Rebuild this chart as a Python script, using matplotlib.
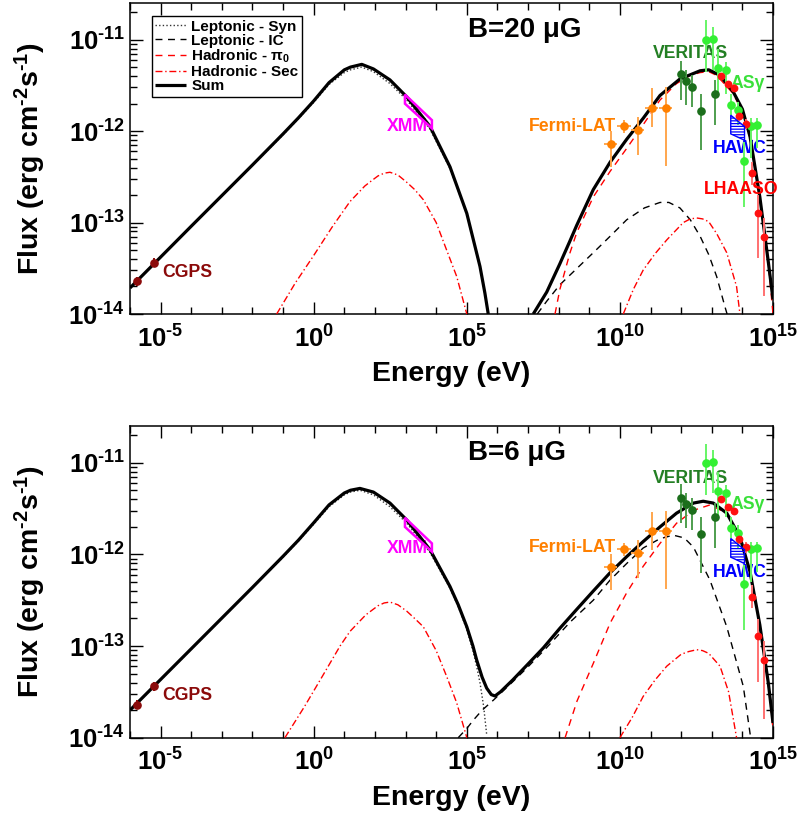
import numpy as np
import matplotlib
matplotlib.use('Agg')
import matplotlib.pyplot as plt
from matplotlib.patches import Polygon
from matplotlib.ticker import FixedLocator, FuncFormatter, NullFormatter

plt.rcParams['font.family'] = ['Liberation Sans', 'DejaVu Sans']
plt.rcParams['font.weight'] = 'bold'
plt.rcParams['mathtext.fontset'] = 'custom'
plt.rcParams['mathtext.rm'] = 'Liberation Sans:bold'
plt.rcParams['mathtext.bf'] = 'Liberation Sans:bold'
plt.rcParams['mathtext.it'] = 'Liberation Sans:bold:italic'

# ---------------- observational data (log10 E [eV], log10 E^2 dN/dE [erg cm^-2 s^-1]) ----
cgps_logE = [-5.77, -5.21]
cgps_logF = [-13.64, -13.44]

fermi_logE = [9.70, 10.13, 10.58, 11.04, 11.49]
fermi_logF = [-12.14, -11.945, -11.99, -11.745, -11.745]
fermi_logF_hi = [-12.00, -11.88, -11.844, -11.534, -11.523]
fermi_logF_lo = [-12.39, -12.02, -12.26, -11.953, -12.38]
fermi_dlogE = [0.22, 0.22, 0.22, 0.22, 0.22]

veritas_logE = [11.99, 12.17, 12.37, 12.66, 13.11]
veritas_logF = [-11.38, -11.455, -11.517, -11.779, -11.589]
veritas_logF_hi = [-11.23, -11.335, -11.39, -11.589, -11.444]
veritas_logF_lo = [-11.66, -11.716, -11.735, -12.207, -11.935]

asg_logE = [12.81, 13.03, 13.21, 13.45, 13.63, 13.87, 14.06, 14.27, 14.49]
asg_logF = [-11.008, -10.997, -11.305, -11.327, -11.709, -11.771, -12.327, -11.945, -11.935]
asg_logF_hi = [-10.79, -10.86, -11.10, -11.244, -11.589, -11.68, -12.117, -11.862, -11.862]
asg_logF_lo = [-11.353, -11.335, -11.57, -11.589, -11.826, -11.935, -12.826, -12.298, -12.19]

lhaaso_logE = [13.29, 13.52, 13.71, 13.90, 14.12, 14.30, 14.52, 14.71]
lhaaso_logF = [-11.40, -11.48, -11.528, -11.836, -11.924, -12.461, -12.891, -13.153]
lhaaso_logF_hi = [-11.37, -11.45, -11.49, -11.79, -11.87, -12.335, -12.70, -12.95]
lhaaso_logF_lo = [-11.43, -11.51, -11.57, -11.89, -11.98, -12.589, -13.39, -13.80]

xmm_logE = [2.98, 3.86, 3.86, 2.98]
xmm_logF = [-11.60, -11.88, -11.97, -11.70]

hawc_logE = [13.62, 14.07, 14.07, 13.62]
hawc_logF = [-11.826, -11.95, -12.10, -12.03]

# ---------------- model curves, B = 20 uG ----------------
syn20_logE = [-6, -4, -2, -1, -0.5, 0, 0.5, 1.0, 1.2, 1.57, 1.95, 2.49, 3.04, 3.80, 4.45, 4.72, 5.0, 5.43, 5.59, 5.70]
syn20_logF = [-13.72, -13.045, -12.375, -12.04, -11.865, -11.685, -11.49, -11.36, -11.33, -11.30, -11.35, -11.48,
              -11.66, -11.98, -12.41, -12.65, -12.91, -13.49, -13.78, -14.0]
ic20_logE = [7.3, 7.61, 8.04, 8.6, 9.13, 9.68, 10.22, 10.8, 11.31, 11.6, 11.96, 12.3, 12.62, 12.9, 13.16, 13.43, 13.5]
ic20_logF = [-14.0, -13.86, -13.68, -13.50, -13.33, -13.15, -12.97, -12.84, -12.78, -12.78, -12.84, -12.97, -13.15,
             -13.35, -13.59, -13.92, -14.0]
pi20_logE = [7.88, 8.04, 8.37, 8.59, 9.13, 9.68, 10.22, 10.76, 11.31, 11.85, 12.3, 12.62, 12.9, 13.16, 13.70, 14.0,
             14.25, 14.57, 14.85, 15.0]
pi20_logF = [-14.0, -13.73, -13.33, -13.11, -12.72, -12.44, -12.19, -11.93, -11.66, -11.48, -11.39, -11.36, -11.35,
             -11.39, -11.59, -11.79, -12.08, -12.73, -13.46, -14.0]
secA20_logE = [-1.21, -0.6, 0, 0.6, 1.185, 1.67, 1.9, 2.1, 2.3, 2.49, 2.75, 3.04, 3.3, 3.58, 4.0, 4.34, 4.67, 5.0]
secA20_logF = [-14.0, -13.66, -13.36, -13.05, -12.77, -12.60, -12.54, -12.49, -12.46, -12.45, -12.48, -12.56, -12.64,
               -12.75, -13.0, -13.30, -13.59, -14.0]
secB20_logE = [10.11, 10.44, 10.76, 11.15, 11.53, 12.07, 12.3, 12.51, 12.7, 12.9, 13.16, 13.49, 13.81, 13.92]
secB20_logF = [-14.0, -13.73, -13.52, -13.34, -13.19, -13.0, -12.96, -12.95, -12.96, -12.99, -13.12, -13.33, -13.70,
               -14.0]
sumA20_logE = [-6, -4, -2, -1, -0.5, 0, 0.5, 1.0, 1.2, 1.57, 1.95, 2.49, 3.04, 3.80, 4.45, 4.72, 5.0, 5.43, 5.59, 5.70]
sumA20_logF = [-13.715, -13.04, -12.37, -12.03, -11.855, -11.67, -11.47, -11.33, -11.30, -11.27, -11.32, -11.44,
               -11.626, -11.95, -12.39, -12.64, -12.90, -13.48, -13.77, -14.0]
sumB20_logE = [7.17, 7.61, 8.04, 8.37, 8.59, 9.13, 9.68, 10.22, 10.76, 11.31, 11.96, 12.62, 12.9, 13.27, 13.70, 14.0,
               14.25, 14.57, 14.85, 15.0]
sumB20_logF = [-14.0, -13.76, -13.45, -13.20, -13.03, -12.64, -12.34, -12.09, -11.86, -11.61, -11.43, -11.34, -11.33,
               -11.39, -11.57, -11.76, -12.06, -12.72, -13.44, -13.84]

# ---------------- model curves, B = 6 uG ----------------
syn6_logE = [-6, -4, -2, -1, -0.5, 0, 0.5, 1.0, 1.2, 1.51, 1.95, 2.49, 3.04, 3.80, 4.45, 4.72, 5.0, 5.2, 5.32, 5.43,
             5.55, 5.65]
syn6_logF = [-13.705, -13.035, -12.365, -12.03, -11.855, -11.67, -11.48, -11.35, -11.32, -11.30, -11.35, -11.48,
             -11.66, -11.98, -12.37, -12.57, -12.82, -13.05, -13.22, -13.40, -13.66, -13.97]
ic6_logE = [4.72, 5.0, 5.21, 5.5, 5.87, 6.5, 6.96, 7.6, 8.37, 9.13, 9.68, 10.22, 10.76, 11.3, 11.74, 12.1, 12.40,
            12.94, 13.49, 14.03, 14.27]
ic6_logF = [-14.0, -13.9, -13.81, -13.70, -13.59, -13.39, -13.24, -13.02, -12.74, -12.50, -12.28, -12.10, -11.93,
            -11.83, -11.79, -11.82, -11.92, -12.28, -12.79, -13.44, -14.0]
pi6_logE = [8.21, 8.6, 9.13, 9.68, 10.22, 10.76, 11.31, 11.85, 12.40, 12.94, 13.49, 13.92, 14.25, 14.57, 14.85, 15.0]
pi6_logF = [-14.0, -13.6, -13.19, -12.75, -12.42, -12.13, -11.88, -11.66, -11.52, -11.46, -11.55, -11.81, -12.19,
            -12.77, -13.43, -13.9]
secA6_logE = [-0.94, -0.3, 0.3, 0.86, 1.185, 1.7, 1.9, 2.1, 2.3, 2.49, 2.75, 3.04, 3.3, 3.58, 4.0, 4.34, 4.67, 5.0]
secA6_logF = [-14.0, -13.66, -13.32, -13.0, -12.84, -12.66, -12.61, -12.56, -12.53, -12.52, -12.55, -12.62, -12.70,
              -12.79, -13.05, -13.33, -13.62, -14.0]
secB6_logE = [10.0, 10.4, 10.76, 11.15, 11.53, 12.0, 12.25, 12.51, 12.7, 12.9, 13.27, 13.55, 13.81]
secB6_logF = [-14.0, -13.78, -13.55, -13.37, -13.22, -13.09, -13.06, -13.04, -13.05, -13.08, -13.22, -13.5, -14.0]
sum6_logE = [-6, -4, -2, -1, -0.5, 0, 0.5, 1.0, 1.2, 1.51, 1.95, 2.49, 3.04, 3.80, 4.45, 4.72, 5.0, 5.2, 5.32, 5.5,
             5.65, 5.80, 5.92, 6.1, 6.5, 6.96, 7.5, 8.04, 8.59, 9.13, 9.68, 10.22, 10.76, 11.31, 11.85, 12.40, 12.72,
             13.05, 13.49, 13.92, 14.25, 14.57, 14.85, 15.0]
sum6_logF = [-13.70, -13.03, -12.36, -12.02, -11.845, -11.655, -11.46, -11.33, -11.30, -11.28, -11.32, -11.44, -11.625,
             -11.95, -12.35, -12.55, -12.79, -13.0, -13.15, -13.34, -13.46, -13.53, -13.545, -13.50, -13.37, -13.21,
             -13.02, -12.806, -12.60, -12.40, -12.20, -12.025, -11.86, -11.70, -11.55, -11.44, -11.42, -11.44, -11.55,
             -11.81, -12.19, -12.77, -13.41, -13.84]

# ---------------- styles ----------------
C_FERMI, C_FERMI_E = '#FF8000', '#FFA64D'
C_VER, C_VER_E, C_VER_T = '#1B6E1B', '#4E9E4E', '#237F23'
C_ASG, C_ASG_E, C_ASG_T = '#33F033', '#66F566', '#3AE03A'
C_LHA, C_LHA_E = '#FF1010', '#FF7070'
C_CGPS = '#8B0A0A'
C_XMM = '#FF00FF'
C_HAWC = '#0000FF'

p = lambda a: 10.0 ** np.asarray(a, dtype=float)

fig = plt.figure(figsize=(8, 8.19), dpi=100)
ax_top = fig.add_axes([0.1625, 0.6166, 0.80375, 0.3794])
ax_bot = fig.add_axes([0.1625, 0.0993, 0.80375, 0.3802])


def errpts(ax, lE, lF, hi, lo, col, ecol, dlE=None, ms=5.2):
    E, F = p(lE), p(lF)
    yerr = [F - p(lo), p(hi) - F]
    xerr = None
    if dlE is not None:
        d = np.asarray(dlE)
        xerr = [E - E / 10 ** d, E * 10 ** d - E]
    ax.errorbar(E, F, yerr=yerr, xerr=xerr, fmt='none', ecolor=ecol, elinewidth=1.4, capsize=0, zorder=5)
    ax.plot(E, F, 'o', color=col, ms=ms, mec=col, zorder=6)


def pow_label(v, pos):
    k = int(round(np.log10(v)))
    if k < 0:
        return r'$\mathbf{10^{\text{-}%d}}$' % (-k)
    return r'$\mathbf{10^{%d}}$' % k


def setup(ax, panel):
    if panel == 'top':
        d = dict(syn=(syn20_logE, syn20_logF), ic=(ic20_logE, ic20_logF), pi=(pi20_logE, pi20_logF),
                 sec=[(secA20_logE, secA20_logF), (secB20_logE, secB20_logF)],
                 sum=[(sumA20_logE, sumA20_logF), (sumB20_logE, sumB20_logF)])
        title = 'B=20 \u03bcG'
    else:
        d = dict(syn=(syn6_logE, syn6_logF), ic=(ic6_logE, ic6_logF), pi=(pi6_logE, pi6_logF),
                 sec=[(secA6_logE, secA6_logF), (secB6_logE, secB6_logF)],
                 sum=[(sum6_logE, sum6_logF)])
        title = 'B=6 \u03bcG'

    ax.plot(p(d['syn'][0]), p(d['syn'][1]), color='#333333', lw=1.0, ls=(0, (1, 1.6)), label='Leptonic - Syn', zorder=3)
    ax.plot(p(d['ic'][0]), p(d['ic'][1]), color='black', lw=1.0, ls=(0, (5, 4)), label='Leptonic - IC', zorder=3)
    ax.plot(p(d['pi'][0]), p(d['pi'][1]), color='#FF0000', lw=1.0, ls=(0, (5, 4)), label='Hadronic - \u03c0$_0$', zorder=3)
    for i, (e, f) in enumerate(d['sec']):
        ax.plot(p(e), p(f), color='#FF0000', lw=1.0, ls=(0, (5, 2, 1, 2)),
                label='Hadronic - Sec' if i == 0 else None, zorder=3)
    for i, (e, f) in enumerate(d['sum']):
        ax.plot(p(e), p(f), color='black', lw=2.3, solid_capstyle='butt', solid_joinstyle='round',
                label='Sum' if i == 0 else None, zorder=4)

    # data
    errpts(ax, cgps_logE, cgps_logF, [v + 0.05 for v in cgps_logF], [v - 0.05 for v in cgps_logF], C_CGPS, C_CGPS)
    ax.add_patch(Polygon(np.column_stack([p(xmm_logE), p(xmm_logF)]), closed=True, fill=False,
                         edgecolor=C_XMM, lw=1.8, zorder=6))
    errpts(ax, fermi_logE, fermi_logF, fermi_logF_hi, fermi_logF_lo, C_FERMI, C_FERMI_E, fermi_dlogE)
    errpts(ax, veritas_logE, veritas_logF, veritas_logF_hi, veritas_logF_lo, C_VER, C_VER_E)
    errpts(ax, asg_logE, asg_logF, asg_logF_hi, asg_logF_lo, C_ASG, C_ASG_E)
    errpts(ax, lhaaso_logE, lhaaso_logF, lhaaso_logF_hi, lhaaso_logF_lo, C_LHA, C_LHA_E, ms=4.6)
    plt.rcParams['hatch.linewidth'] = 0.9
    ax.add_patch(Polygon(np.column_stack([p(hawc_logE), p(hawc_logF)]), closed=True, facecolor='none',
                         edgecolor=C_HAWC, hatch='------', lw=1.0, zorder=6))

    # labels
    fs = 12.7
    off = 0.0 if panel == 'top' else 1.0
    ax.text(p(-4.955), p(-13.55 + 0.005 * off), 'CGPS', color=C_CGPS, fontsize=fs, fontweight='bold', ha='left', va='center')
    ax.text(p(3.046), p(-11.953 + 0.013 * off), 'XMM', color=C_XMM, fontsize=fs, fontweight='bold', ha='center', va='center')
    ax.text(p(9.87), p(-11.945 + 0.015 * off), 'Fermi-LAT', color=C_FERMI, fontsize=fs, fontweight='bold', ha='right', va='center')
    ax.text(p(12.29), p(-11.153 - 0.017 * off), 'VERITAS', color=C_VER_T, fontsize=fs, fontweight='bold', ha='center', va='center')
    ax.text(p(13.63), p(-11.48 + 0.02 * off), 'AS\u03b3', color=C_ASG_T, fontsize=fs, fontweight='bold', ha='left', va='center')
    ax.text(p(13.92), p(-12.19 - 0.01 * off), 'HAWC', color=C_HAWC, fontsize=fs, fontweight='bold', ha='center', va='center')
    if panel == 'top':
        ax.text(p(13.95), p(-12.64), 'LHAASO', color='#FF0000', fontsize=fs, fontweight='bold', ha='center',
                va='center', clip_on=False, zorder=7)
    ax.text(0.526, 0.914, title, transform=ax.transAxes, fontsize=20, fontweight='bold', ha='left', va='center')

    ax.set_xscale('log')
    ax.set_yscale('log')
    ax.set_xlim(1e-6, 1e15)
    ax.set_ylim(1e-14, 2.5e-11)

    ax.xaxis.set_major_locator(FixedLocator([10.0 ** k for k in (-5, 0, 5, 10, 15)]))
    ax.xaxis.set_minor_locator(FixedLocator([10.0 ** k for k in range(-6, 16) if k % 5 != 0]))
    ax.yaxis.set_major_locator(FixedLocator([10.0 ** k for k in (-14, -13, -12, -11)]))
    ax.yaxis.set_minor_locator(FixedLocator([m * 10.0 ** k for k in (-14, -13, -12, -11) for m in range(2, 10)]))
    fmt = FuncFormatter(pow_label)
    ax.xaxis.set_major_formatter(fmt)
    ax.yaxis.set_major_formatter(fmt)
    ax.xaxis.set_minor_formatter(NullFormatter())
    ax.yaxis.set_minor_formatter(NullFormatter())
    ax.tick_params(axis='both', which='both', direction='in', top=True, right=True, width=1.0, colors='black')
    ax.tick_params(axis='x', which='major', length=8.5, pad=8, labelsize=18.5)
    ax.tick_params(axis='x', which='minor', length=5)
    ax.tick_params(axis='y', which='major', length=9.4, pad=3.5, labelsize=18.5)
    ax.tick_params(axis='y', which='minor', length=4.8)
    for s in ax.spines.values():
        s.set_linewidth(1.1)

    ax.set_xlabel('Energy (eV)', fontsize=20.5, fontweight='bold')
    ax.set_ylabel(r'Flux (erg cm$^{\mathbf{\text{-}2}}$s$^{\mathbf{\text{-}1}}$)', fontsize=20.5, fontweight='bold')
    ax.xaxis.set_label_coords(0.5, -0.193)
    ax.yaxis.set_label_coords(-0.1555, 0.5)
    ax.xaxis.label.set_va('center')
    ax.yaxis.label.set_va('center')

    if panel == 'top':
        leg = ax.legend(loc='upper left', bbox_to_anchor=(0.0337, 0.959), fontsize=11, frameon=True,
                        fancybox=False, edgecolor='black', framealpha=1, borderpad=0.25, labelspacing=0.0,
                        handlelength=2.0, handletextpad=0.35, borderaxespad=0.0)
        leg.get_frame().set_linewidth(1.0)
        for t in leg.get_texts():
            t.set_fontweight('bold')


setup(ax_top, 'top')
setup(ax_bot, 'bot')

fig.savefig('out.png', dpi=100)
